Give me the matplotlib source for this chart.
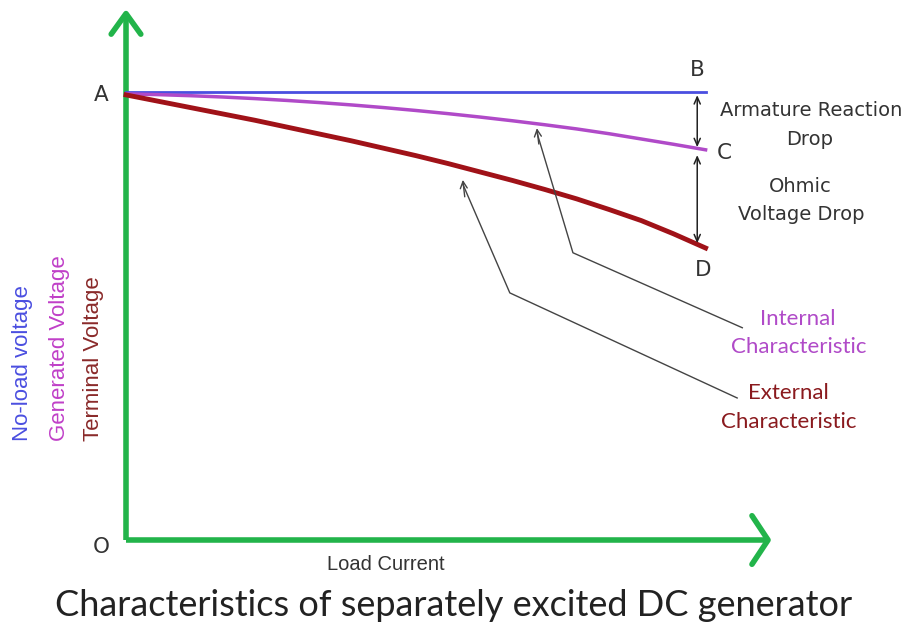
import matplotlib
matplotlib.use("Agg")
import matplotlib.pyplot as plt

# Load current (arbitrary units) and the three voltage characteristics
load_current = [0, 5, 10, 15, 20, 25, 30, 35, 40, 45, 50, 55, 60, 65, 70, 75, 80, 85, 90]
no_load_voltage = [84.85] * len(load_current)
generated_voltage = [84.5, 84.35, 84.15, 83.9, 83.6, 83.25, 82.85, 82.4, 81.9, 81.35,
                     80.75, 80.1, 79.4, 78.65, 77.85, 76.95, 75.95, 74.95, 73.9]
terminal_voltage = [84.3, 83.1, 81.9, 80.7, 79.5, 78.2, 76.9, 75.6, 74.2, 72.8,
                    71.3, 69.7, 68.1, 66.4, 64.6, 62.6, 60.5, 58.0, 55.3]

W, H = 914, 632
fig = plt.figure(figsize=(W / 100, H / 100), dpi=100)


def fx(x):
    return x / W


def fy(y):
    return 1 - y / H


ax = fig.add_axes([fx(126), fy(540), (770 - 126) / W, (540 - 12) / H])
ax.set_xlim(0, 100)
ax.set_ylim(0, 100)
ax.axis("off")

GREEN = "#22b44a"
BLUE = "#4a4ee0"
PURPLE = "#b04ac8"
RED = "#a01218"
GREY = "#333333"

# axes drawn as green arrows with open heads
ax.plot([0, 0], [0, 99.6], color=GREEN, lw=4, solid_capstyle="butt", clip_on=False)
ax.plot([0, 99.6], [0, 0], color=GREEN, lw=4, solid_capstyle="butt", clip_on=False)
ax.plot([-2.3, 0, 2.3], [95.8, 99.7, 95.8], color=GREEN, lw=4, solid_capstyle="round",
        solid_joinstyle="round", clip_on=False)
ax.plot([97.2, 99.7, 97.2], [4.6, 0, -4.6], color=GREEN, lw=4, solid_capstyle="round",
        solid_joinstyle="round", clip_on=False)

# characteristics
ax.plot(load_current, no_load_voltage, color=BLUE, lw=2, clip_on=False)
ax.plot(load_current, generated_voltage, color=PURPLE, lw=2.5, clip_on=False,
        solid_joinstyle="round")
ax.plot(load_current, terminal_voltage, color=RED, lw=3.5, clip_on=False,
        solid_joinstyle="round")

# voltage drop double arrows
xd = 88.7
dbl = dict(arrowstyle="<->,head_length=0.5,head_width=0.22", color="#222222", lw=1.1,
           shrinkA=0, shrinkB=0)
ax.annotate("", xy=(xd, no_load_voltage[-1] - 0.6), xytext=(xd, generated_voltage[-1] + 0.5),
            arrowprops=dbl)
ax.annotate("", xy=(xd, generated_voltage[-1] - 1.0), xytext=(xd, terminal_voltage[-1] + 0.9),
            arrowprops=dbl)

# leader lines to the curves
lead = dict(color="#444444", lw=1.0)
tip = dict(arrowstyle="->,head_length=0.5,head_width=0.25", color="#444444", lw=1.0,
           shrinkA=0, shrinkB=0)
ax.plot([95.7, 69.4, 63.8], [40.2, 54.4, 77.2], **lead, clip_on=False)
ax.annotate("", xy=(63.8, 78.0), xytext=(64.1, 75.0), arrowprops=tip)
ax.plot([94.9, 59.6, 52.3], [26.9, 46.8, 67.4], **lead, clip_on=False)
ax.annotate("", xy=(52.3, 68.2), xytext=(52.6, 65.0), arrowprops=tip)

# point labels
lbl = dict(fontsize=15.5, color=GREY, family="DejaVu Sans", ha="center", va="center")
fig.text(fx(101), fy(95), "A", **lbl)
fig.text(fx(697), fy(70), "B", **lbl)
fig.text(fx(724), fy(153), "C", **lbl)
fig.text(fx(703), fy(270), "D", **lbl)
fig.text(fx(101), fy(547), "O", **lbl)

note = dict(fontsize=14, color=GREY, family="DejaVu Sans", ha="center", va="center")
fig.text(fx(811), fy(110), "Armature Reaction", **note)
fig.text(fx(810), fy(139), "Drop", **note)
fig.text(fx(800), fy(187), "Ohmic", **note)
fig.text(fx(801), fy(215), "Voltage Drop", **note)

cal = dict(fontsize=16, family="Lato", ha="center", va="center")
fig.text(fx(798), fy(319), "Internal", color=PURPLE, **cal)
fig.text(fx(799), fy(347), "Characteristic", color=PURPLE, **cal)
fig.text(fx(788), fy(393), "External", color="#8a1a1e", **cal)
fig.text(fx(789), fy(422), "Characteristic", color="#8a1a1e", **cal)

# vertical axis labels
vlab = dict(fontsize=16, family="Liberation Sans", rotation=90, ha="center", va="bottom")
fig.text(fx(23), fy(441), "No-load voltage", color=BLUE, **vlab)
fig.text(fx(59), fy(441), "Generated Voltage", color="#c040c8", **vlab)
fig.text(fx(93), fy(441), "Terminal Voltage", color="#8a2a2a", **vlab)

fig.text(fx(386), fy(564), "Load Current", fontsize=14.5, family="Liberation Sans", color=GREY,
         ha="center", va="center")
fig.text(fx(454), fy(606), "Characteristics of separately excited DC generator", fontsize=26,
         family="Lato", color="#222222", ha="center", va="center")

fig.savefig("out.png", dpi=100, facecolor="white")
